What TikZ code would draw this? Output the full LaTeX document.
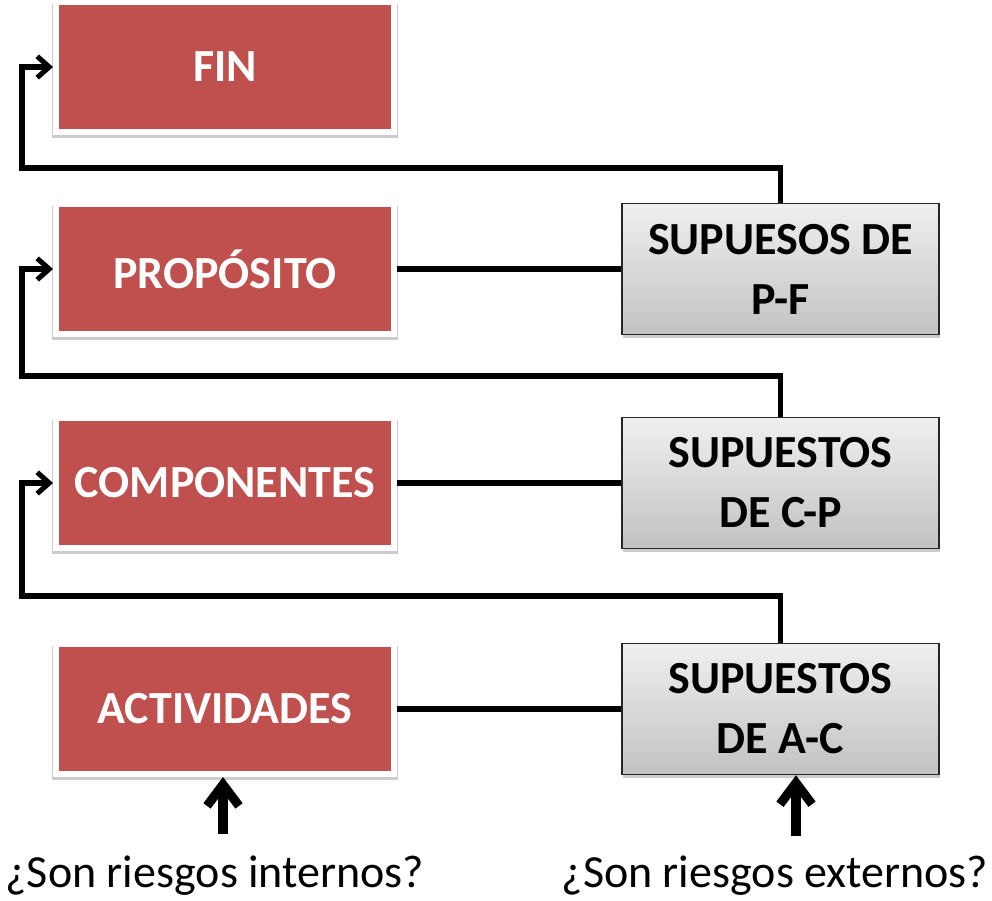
\documentclass[tikz,border=0pt]{standalone}
\usepackage{fontspec}
\setmainfont{Carlito}
\usetikzlibrary{arrows.meta,shadows}
\definecolor{boxred}{HTML}{C0504D}
\begin{document}
\begin{tikzpicture}[x=0.75pt,y=-0.75pt,
  redbox/.style={fill=boxred, draw=white, line width=4.5pt,
    minimum width=253.5pt, minimum height=97.5pt, inner sep=0pt,
    text=white, font=\fontsize{34.5}{41}\selectfont\bfseries,
    drop shadow={shadow xshift=0pt, shadow yshift=-3pt, shadow scale=1.025, opacity=0.4}},
  graybox/.style={top color=gray!12, bottom color=gray!48, draw=black!85,
    line width=1.2pt, minimum width=237.75pt, minimum height=98.25pt,
    inner sep=0pt, align=center, text=black,
    font=\fontsize{34.5}{45}\selectfont\bfseries,
    drop shadow={shadow xshift=0.8pt, shadow yshift=-2.5pt, opacity=0.4}},
  conn/.style={line width=3.8pt},
  feedback/.style={line width=3.8pt, -{Straight Barb[length=9pt,width=16pt]}},
  bigarrow/.style={line width=6.8pt, -{Straight Barb[length=16pt,width=24pt]}},
  question/.style={anchor=base, inner sep=0pt, font=\fontsize{34.5}{41}\selectfont}
]
\fill[white] (0,0) rectangle (992,900);
\useasboundingbox (0,0) rectangle (992,900);

% red boxes
\node[redbox] (fin) at (225,67) {FIN};
\node[redbox] (prop) at (225,269) {PROPÓSITO};
\node[redbox] (comp) at (225,483) {COMPONENTES};
\node[redbox] (act) at (225,709) {ACTIVIDADES};

% gray boxes
\node[graybox] (pf) at (780.5,269) {SUPUESOS DE\\P-F};
\node[graybox] (cp) at (780.5,483) {SUPUESTOS\\DE C-P};
\node[graybox] (ac) at (780.5,709) {SUPUESTOS\\DE A-C};

% horizontal links
\draw[conn] (prop.east) -- (pf.west);
\draw[conn] (comp.east) -- (cp.west);
\draw[conn] (act.east) -- (ac.west);

% feedback routes
\coordinate (r1) at (22,168);
\coordinate (r2) at (22,376);
\coordinate (r3) at (22,596);
\draw[feedback] (pf.north) |- (r1) |- (fin.west);
\draw[feedback] (cp.north) |- (r2) |- (prop.west);
\draw[feedback] (ac.north) |- (r3) |- (comp.west);

% questions
\node[question] (qi) at (215,887) {¿Son riesgos internos?};
\node[question] (qe) at (775,887) {¿Son riesgos externos?};
\coordinate (ai) at (223,834);
\coordinate (ae) at (796,836);
\draw[bigarrow] (ai) -- (ai |- act.south);
\draw[bigarrow] (ae) -- (ae |- ac.south);
\end{tikzpicture}
\end{document}
